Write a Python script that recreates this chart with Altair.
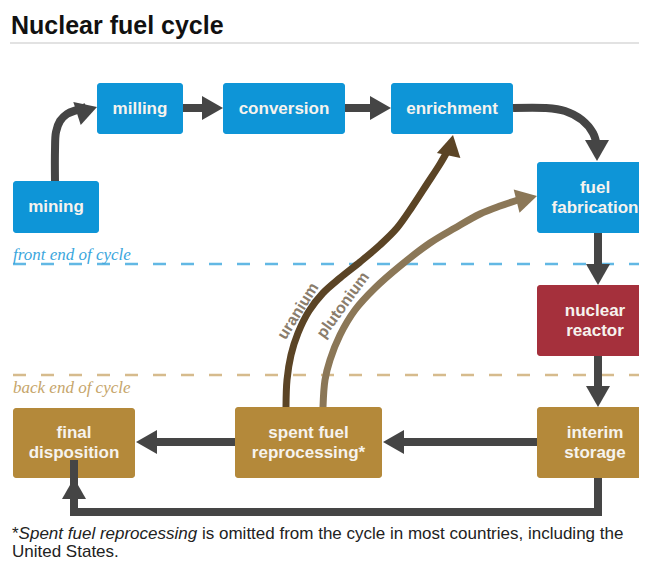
import altair as alt
import pandas as pd

# ---------------- canvas (page pixels, 1:1) ----------------
W, H = 631, 554
XDOM = [8, 8 + W]
YDOM = [8 + H, 8]

# ---------------- boxes ----------------
BOX_NAMES = ["mining", "milling", "conversion", "enrichment", "fuel fabrication",
             "nuclear reactor", "interim storage", "spent fuel reprocessing", "final disposition"]
BOX_LEFT = [13, 97, 223, 391, 537, 537, 537, 235, 13]
BOX_RIGHT = [99, 183, 345, 513, 653, 653, 653, 382, 135]
BOX_TOP = [181, 83, 83, 83, 162, 285, 407, 407, 408]
BOX_BOTTOM = [233, 134, 134, 134, 233, 356, 478, 478, 478]
BOX_STAGE = ["front", "front", "front", "front", "front", "reactor", "back", "back", "back"]
BOX_LINES = [["mining"], ["milling"], ["conversion"], ["enrichment"], ["fuel", "fabrication"],
             ["nuclear", "reactor"], ["interim", "storage"], ["spent fuel", "reprocessing*"],
             ["final", "disposition"]]
STAGE_COLORS = {"front": "#0e95d7", "reactor": "#a5303c", "back": "#b4893a"}

# ---------------- gray arrow shafts (straight) ----------------
SHAFT_PATHS = {
    "milling-conversion": [(183, 108), (205, 108)],
    "conversion-enrichment": [(345, 108), (373, 108)],
    "fabrication-reactor": [(598, 233), (598, 266)],
    "reactor-storage": [(598, 356), (598, 389)],
    "storage-reprocessing": [(537, 442), (400, 442)],
    "reprocessing-disposition": [(235, 442), (154, 442)],
    "storage-disposition": [(598, 478), (598, 512), (74, 512), (74, 460)],
}
# gray curved shafts
CURVE_PATHS = {
    "mining-milling": [(55, 181), (55, 150), (56, 132), (60, 121), (67, 114), (77, 110), (86, 107)],
    "enrichment-fabrication": [(513, 108), (545, 108), (565, 111), (582, 120), (593, 133), (597, 146)],
}
# recycle curves
URANIUM_PATH = [(286, 407), (287, 380), (291, 355), (298, 333), (309, 311), (323, 293), (340, 278),
                (360, 262), (380, 245), (397, 228), (412, 207), (427, 184), (440, 164), (448, 150)]
PLUTONIUM_PATH = [(323, 407), (325, 380), (330, 360), (340, 335), (355, 310), (375, 288), (400, 266),
                  (430, 243), (455, 228), (480, 214), (500, 206), (518, 200)]

# ---------------- arrowheads (tip x, tip y, direction angle, colour) ----------------
HEAD_X = [97, 223, 391, 597, 598, 598, 383, 136, 74, 453, 537]
HEAD_Y = [107, 108, 108, 161, 285, 407, 442, 442, 478, 135, 196]
HEAD_ANGLE = [72, 90, 90, 180, 180, 180, 270, 270, 0, 12, 76]
HEAD_COLOR = ["#454545"] * 9 + ["#5b4425", "#8b7757"]

GRAY = "#454545"
URANIUM_COLOR = "#5b4425"
PLUTONIUM_COLOR = "#8b7757"


def X(field="x"):
    return alt.X(f"{field}:Q", scale=alt.Scale(domain=XDOM, nice=False, zero=False), axis=None)


def Y(field="y"):
    return alt.Y(f"{field}:Q", scale=alt.Scale(domain=YDOM, nice=False, zero=False), axis=None)


def paths_df(paths):
    rows = []
    for name, pts in paths.items():
        for i, (px, py) in enumerate(pts):
            rows.append({"path": name, "i": i, "x": px, "y": py})
    return pd.DataFrame(rows)


# ---- dashed separators ----
sep_df = pd.DataFrame({"x": [13, 13], "x2": [647, 647], "y": [264, 375],
                       "col": ["#62b8e4", "#d6bb8d"]})
separators = alt.Chart(sep_df).mark_rule(strokeWidth=2.5, strokeDash=[13, 15]).encode(
    x=X(), x2="x2", y=Y(), color=alt.Color("col:N", scale=None))

sep_text_df = pd.DataFrame({"x": [13, 13], "y": [260, 393],
                            "t": ["front end of cycle", "back end of cycle"],
                            "col": ["#3aa6dd", "#c6a56a"]})
sep_text = alt.Chart(sep_text_df).mark_text(
    align="left", baseline="alphabetic", font="Liberation Serif", fontStyle="italic",
    fontSize=17).encode(x=X(), y=Y(), text="t:N", color=alt.Color("col:N", scale=None))

# ---- boxes ----
box_df = pd.DataFrame({"name": BOX_NAMES, "x": BOX_LEFT, "x2": BOX_RIGHT,
                       "y": BOX_TOP, "y2": BOX_BOTTOM,
                       "col": [STAGE_COLORS[s] for s in BOX_STAGE]})
boxes = alt.Chart(box_df).mark_rect(cornerRadius=3).encode(
    x=X(), x2="x2", y=Y(), y2="y2", color=alt.Color("col:N", scale=None))

lab_rows = []
for n, l, r, t, b, lines in zip(BOX_NAMES, BOX_LEFT, BOX_RIGHT, BOX_TOP, BOX_BOTTOM, BOX_LINES):
    k = len(lines)
    for j, s in enumerate(lines):
        lab_rows.append({"x": (l + r) / 2, "y": (t + b) / 2 + (j - (k - 1) / 2) * 20, "t": s})
box_labels = alt.Chart(pd.DataFrame(lab_rows)).mark_text(
    font="Liberation Sans", fontWeight="bold", fontSize=17, color="#f6f3ee",
    align="center", baseline="middle").encode(x=X(), y=Y(), text="t:N")

# ---- recycle curves ----
rec_rows = []
for name, pts, col in [("uranium", URANIUM_PATH, URANIUM_COLOR),
                       ("plutonium", PLUTONIUM_PATH, PLUTONIUM_COLOR)]:
    for i, (px, py) in enumerate(pts):
        rec_rows.append({"path": name, "i": i, "x": px, "y": py, "col": col})
recycle = alt.Chart(pd.DataFrame(rec_rows)).mark_line(
    strokeWidth=7, interpolate="catmull-rom", strokeCap="butt").encode(
    x=X(), y=Y(), detail="path:N", order="i:Q", color=alt.Color("col:N", scale=None))

rec_lab_df = pd.DataFrame({"x": [298, 343], "y": [311, 305], "t": ["uranium", "plutonium"],
                           "a": [302, 306]})
rec_labels = alt.Chart(rec_lab_df).mark_text(
    font="Liberation Sans", fontWeight="bold", fontSize=16, color="#8a7d6c",
    align="center", baseline="middle").encode(
    x=X(), y=Y(), text="t:N", angle=alt.Angle("a:Q", scale=None))

# ---- gray arrows ----
shafts = alt.Chart(paths_df(SHAFT_PATHS)).mark_line(
    strokeWidth=8, strokeCap="butt", strokeJoin="miter", color=GRAY).encode(
    x=X(), y=Y(), detail="path:N", order="i:Q")
curves = alt.Chart(paths_df(CURVE_PATHS)).mark_line(
    strokeWidth=8, strokeCap="butt", interpolate="catmull-rom", color=GRAY).encode(
    x=X(), y=Y(), detail="path:N", order="i:Q")

head_df = pd.DataFrame({"x": HEAD_X, "y": HEAD_Y, "a": HEAD_ANGLE, "col": HEAD_COLOR})
heads = alt.Chart(head_df).mark_point(
    shape="M0,0L-1,1.75L1,1.75Z", size=576, filled=True, opacity=1, strokeWidth=0).encode(
    x=X(), y=Y(), angle=alt.Angle("a:Q", scale=None), color=alt.Color("col:N", scale=None))

# ---- title ----
title_df = pd.DataFrame({"x": [11], "y": [34], "t": ["Nuclear fuel cycle"]})
title = alt.Chart(title_df).mark_text(
    font="Liberation Sans", fontWeight="bold", fontSize=25, color="#111111",
    align="left", baseline="alphabetic").encode(x=X(), y=Y(), text="t:N")
rule_df = pd.DataFrame({"x": [10], "x2": [647], "y": [43]})
title_rule = alt.Chart(rule_df).mark_rule(strokeWidth=2, color="#e2e2e2").encode(
    x=X(), x2="x2", y=Y())

# ---- footnote ----
FOOT_X = [12, 18.6, 202, 12]
FOOT_Y = [539, 539, 539, 557]
FOOT_TEXT = ["*", "Spent fuel reprocessing",
             "is omitted from the cycle in most countries, including the", "United States."]
FOOT_ITALIC = [False, True, False, False]
foot_df = pd.DataFrame({"x": FOOT_X, "y": FOOT_Y, "t": FOOT_TEXT, "it": FOOT_ITALIC})
foot_norm = alt.Chart(foot_df[~foot_df["it"]]).mark_text(
    font="Liberation Sans", fontSize=17, color="#222222", align="left",
    baseline="alphabetic").encode(x=X(), y=Y(), text="t:N")
foot_it = alt.Chart(foot_df[foot_df["it"]]).mark_text(
    font="Liberation Sans", fontSize=17, fontStyle="italic", color="#222222", align="left",
    baseline="alphabetic").encode(x=X(), y=Y(), text="t:N")

chart = alt.layer(
    title_rule, separators, sep_text, boxes, recycle, rec_labels, shafts, curves, heads,
    box_labels, title, foot_norm, foot_it
).properties(
    width=W, height=H, autosize=alt.AutoSizeParams(type="none"), padding=0
).configure(background="white", view=alt.ViewConfig(stroke=None))

chart.save("out.html", embed_options={"renderer": "svg", "actions": False})
